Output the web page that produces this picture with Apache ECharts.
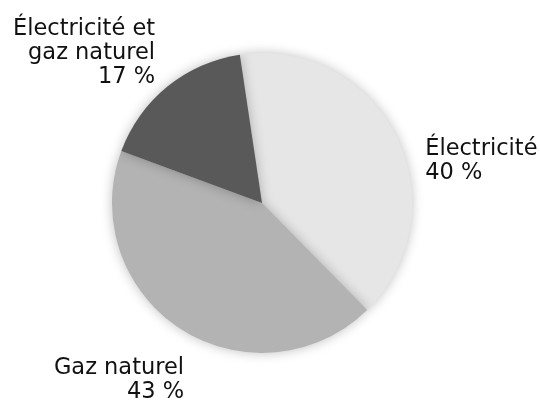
<!DOCTYPE html>
<html>
<head>
<meta charset="utf-8">
<script src="https://cdn.jsdelivr.net/npm/echarts@6/dist/echarts.min.js"></script>
<style>
  html, body {margin: 0; padding: 0; background: #fff;}
  #chart {width: 540px; height: 401px;}
</style>
</head>
<body>
<div id="chart"></div>
<script>
const names = ['Électricité', 'Gaz naturel', 'Électricité et\ngaz naturel']
const values = [40, 43, 17]
const colors = ['#e6e6e6', '#b3b3b3', '#595959']
// nudges for the outside labels, in px
const labelShift = [[15, 30], [14, 43], [-1, -26]]

const myChart = echarts.init(document.getElementById('chart'))
myChart.setOption({
  animation: false,
  series: [{
    type: 'pie',
    center: [262, 203],
    radius: 150,
    startAngle: 98.5,
    clockwise: true,
    data: names.map((n, i) => ({name: n, value: values[i], itemStyle: {color: colors[i]}})),
    itemStyle: {
      shadowBlur: 12,
      shadowColor: 'rgba(0,0,0,0.25)'
    },
    label: {
      show: true,
      position: 'outside',
      formatter: p => p.name + '\n' + p.value + ' %',
      fontFamily: 'DejaVu Sans',
      fontSize: 22.5,
      lineHeight: 24,
      color: '#111',
      overflow: 'none'
    },
    labelLine: {show: false, length: 10, length2: 0},
    labelLayout: p => ({dx: labelShift[p.dataIndex][0], dy: labelShift[p.dataIndex][1]}),
    emphasis: {disabled: true}
  }]
})
</script>
</body>
</html>
